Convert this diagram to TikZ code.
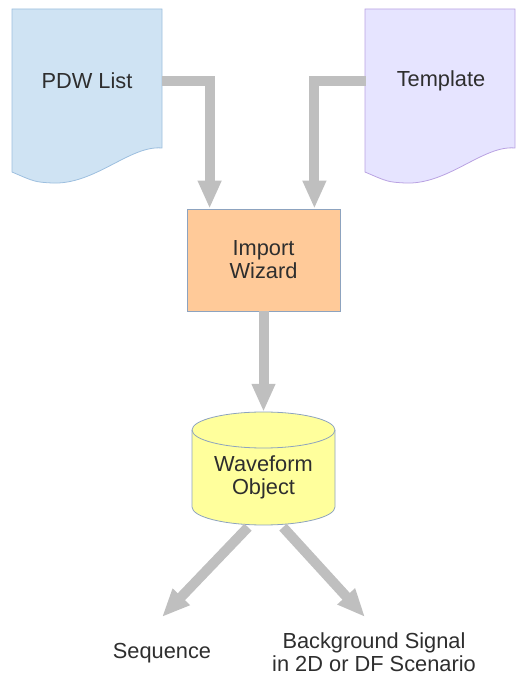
\documentclass[tikz,border=0pt]{standalone}
\usepackage{fontspec}
\setmainfont{Liberation Sans}
\usetikzlibrary{arrows.meta}
\definecolor{pdwfill}{HTML}{CFE3F3}
\definecolor{pdwline}{HTML}{9DBFDF}
\definecolor{tmplfill}{HTML}{E6E4FF}
\definecolor{tmplline}{HTML}{B9A2E2}
\definecolor{wizfill}{HTML}{FFCA99}
\definecolor{wavefill}{HTML}{FFFF9C}
\definecolor{boxline}{HTML}{8DA3BF}
\definecolor{arrowgray}{HTML}{BFBFBF}
\definecolor{textgray}{HTML}{2E2E2E}

\begin{document}
\begin{tikzpicture}[x=1pt,y=1pt,
   lbl/.style={font=\fontsize{21.8}{23}\selectfont,text=textgray,align=center,inner sep=0pt},
   flow/.style={draw=arrowgray,line width=10pt,-{Triangle[width=22pt,length=28pt]}}]
   \useasboundingbox (0,0) rectangle (516,675);
   % documents
   \filldraw[fill=pdwfill,draw=pdwline,line width=0.8pt] (12,666) -- (162,666) -- (162,527)
     .. controls (130,530) and (95,490) .. (52,492) .. controls (35,493) .. (12,503) -- cycle;
   \filldraw[fill=tmplfill,draw=tmplline,line width=0.8pt] (365,666) -- (515,666) -- (515,527)
     .. controls (483,530) and (448,490) .. (405,492) .. controls (388,493) .. (365,503) -- cycle;
   \node[lbl,minimum width=150pt,minimum height=142pt] (pdw) at (87,594) {PDW List};
   \node[lbl,minimum width=150pt,minimum height=142pt] (tmpl) at (441,594) {Template};
   % import wizard
   \node[lbl,fill=wizfill,draw=boxline,line width=0.8pt,minimum width=153pt,minimum height=102pt]
     (wiz) at (263.5,415) {Import\\Wizard};
   % waveform object
   \filldraw[fill=wavefill,draw=boxline,line width=0.8pt] (192,245) -- (192,168)
     arc[start angle=180,end angle=360,x radius=71.5,y radius=18] -- (335,245)
     arc[start angle=0,end angle=180,x radius=71.5,y radius=18];
   \draw[boxline,line width=0.8pt] (192,245) arc[start angle=180,end angle=360,x radius=71.5,y radius=18];
   \node[minimum width=143pt,minimum height=113pt,inner sep=0pt] (wave) at (263.5,206.5) {};
   \node[lbl] (wavetxt) at ([yshift=-9pt]wave.center) {Waveform\\Object};
   % outputs
   \node[lbl] (seq) at (162,22) {Sequence};
   \node[lbl] (bg) at (374,23) {Background Signal\\in 2D or DF Scenario};
   \coordinate (seqtip) at (162,58);
   \coordinate (bgtip) at (365,58);
   % arrows
   \draw[flow] (pdw.east) -| ([xshift=23pt]wiz.north west);
   \draw[flow] (tmpl.west) -| ([xshift=-26pt]wiz.north east);
   \draw[flow] (wiz.south) -- (wave.north);
   \draw[flow] ([xshift=-15.5pt,yshift=-2pt]wave.south) -- (seqtip);
   \draw[flow] ([xshift=19.5pt,yshift=-2pt]wave.south) -- (bgtip);
\end{tikzpicture}
\end{document}
